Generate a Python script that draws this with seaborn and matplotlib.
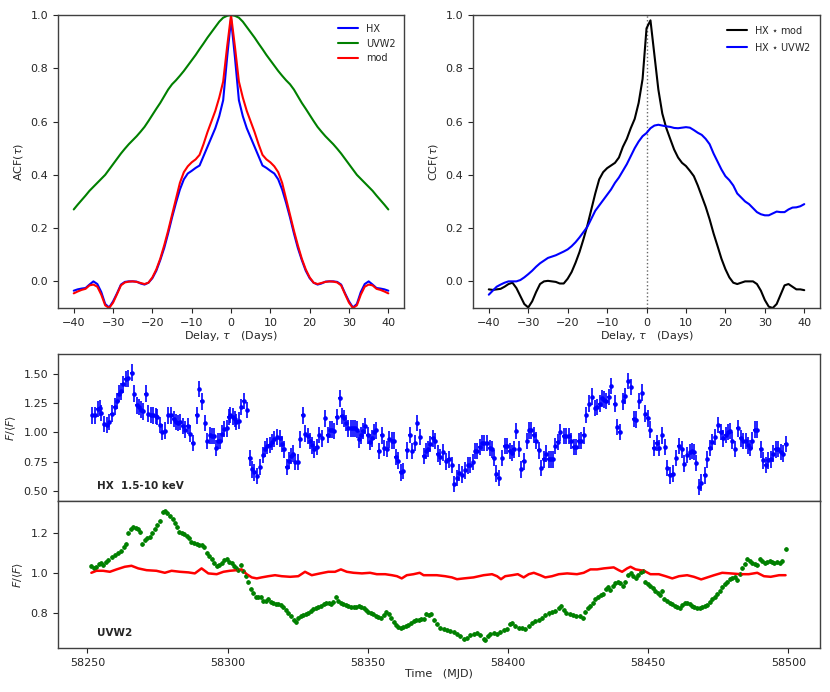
import numpy as np
import pandas as pd
import seaborn as sns
import matplotlib
matplotlib.use("Agg")
import matplotlib.pyplot as plt

# ---- data ----
lags = list(range(-40, 41))

# ACF, HX (blue) for lags -40..40
acf_hx = [-0.035, -0.03, -0.027, -0.025, -0.012, 0.0, -0.01, -0.04, -0.085, -0.098,
          -0.075, -0.045, -0.012, -0.002, 0.0, 0.0, -0.001, -0.008, -0.012, -0.005,
          0.012, 0.04, 0.08, 0.125, 0.18, 0.24, 0.295, 0.345, 0.383, 0.405,
          0.415, 0.426, 0.435, 0.47, 0.505, 0.54, 0.575, 0.62, 0.68, 0.84,
          0.985,
          0.84, 0.68, 0.62, 0.575, 0.54, 0.505, 0.47, 0.435, 0.426, 0.415,
          0.405, 0.383, 0.345, 0.295, 0.24, 0.18, 0.125, 0.08, 0.04, 0.012,
          -0.005, -0.012, -0.008, -0.001, 0.0, 0.0, -0.002, -0.012, -0.045, -0.075,
          -0.098, -0.085, -0.04, -0.01, 0.0, -0.012, -0.025, -0.027, -0.03, -0.035]

# ACF, UVW2 (green)
acf_uv = [0.27, 0.288, 0.305, 0.322, 0.34, 0.355, 0.37, 0.385, 0.40, 0.42,
          0.44, 0.46, 0.48, 0.498, 0.515, 0.53, 0.545, 0.562, 0.58, 0.602,
          0.625, 0.648, 0.67, 0.695, 0.72, 0.74, 0.755, 0.772, 0.79, 0.81,
          0.83, 0.85, 0.872, 0.893, 0.915, 0.935, 0.955, 0.975, 0.99, 0.997,
          1.0,
          0.997, 0.99, 0.975, 0.955, 0.935, 0.915, 0.893, 0.872, 0.85, 0.83,
          0.81, 0.79, 0.772, 0.755, 0.74, 0.72, 0.695, 0.67, 0.648, 0.625,
          0.602, 0.58, 0.562, 0.545, 0.53, 0.515, 0.498, 0.48, 0.46, 0.44,
          0.42, 0.40, 0.385, 0.37, 0.355, 0.34, 0.322, 0.305, 0.288, 0.27]

# ACF, mod (red)
acf_mod = [-0.045, -0.038, -0.032, -0.028, -0.015, -0.012, -0.02, -0.05, -0.09, -0.1,
           -0.08, -0.048, -0.015, -0.004, -0.001, 0.0, -0.002, -0.006, -0.01, -0.005,
           0.015, 0.045, 0.085, 0.135, 0.19, 0.25, 0.31, 0.37, 0.41, 0.432,
           0.447, 0.458, 0.475, 0.515, 0.56, 0.60, 0.64, 0.69, 0.75, 0.88,
           1.0,
           0.88, 0.75, 0.69, 0.64, 0.60, 0.56, 0.515, 0.475, 0.458, 0.447,
           0.432, 0.41, 0.37, 0.31, 0.25, 0.19, 0.135, 0.085, 0.045, 0.015,
           -0.005, -0.01, -0.006, -0.002, 0.0, -0.001, -0.004, -0.015, -0.048, -0.08,
           -0.1, -0.09, -0.05, -0.02, -0.012, -0.015, -0.028, -0.032, -0.038, -0.045]

# CCF, HX * mod (black)
ccf_mod = [-0.03, -0.032, -0.03, -0.028, -0.02, -0.01, -0.005, -0.025, -0.055, -0.085,
           -0.098, -0.075, -0.04, -0.01, 0.0, 0.002, 0.0, -0.002, -0.008, -0.008,
           0.01, 0.035, 0.07, 0.11, 0.158, 0.21, 0.27, 0.33, 0.383, 0.41,
           0.425, 0.435, 0.445, 0.465, 0.505, 0.535, 0.575, 0.61, 0.67, 0.76,
           0.95,
           0.98, 0.85, 0.72, 0.63, 0.576, 0.535, 0.495, 0.465, 0.445, 0.433,
           0.415, 0.395, 0.36, 0.32, 0.28, 0.233, 0.18, 0.133, 0.085, 0.046,
           0.015, -0.005, -0.01, -0.005, 0.0, 0.0, 0.0, -0.01, -0.035, -0.07,
           -0.095, -0.1, -0.085, -0.05, -0.015, -0.01, -0.02, -0.03, -0.03, -0.033]

# CCF, HX * UVW2 (blue)
ccf_uv = [-0.05, -0.035, -0.02, -0.012, -0.005, 0.0, 0.0, 0.0, 0.005, 0.015,
          0.027, 0.04, 0.055, 0.068, 0.078, 0.088, 0.093, 0.098, 0.105, 0.112,
          0.12, 0.132, 0.147, 0.165, 0.185, 0.205, 0.235, 0.265, 0.285, 0.305,
          0.325, 0.345, 0.37, 0.39, 0.415, 0.44, 0.47, 0.50, 0.525, 0.545,
          0.557,
          0.575, 0.585, 0.588, 0.585, 0.582, 0.58, 0.576, 0.575, 0.577, 0.579,
          0.577, 0.568, 0.558, 0.55, 0.535, 0.515, 0.48, 0.45, 0.42, 0.395,
          0.38, 0.36, 0.33, 0.315, 0.30, 0.29, 0.275, 0.26, 0.252, 0.248,
          0.248, 0.255, 0.262, 0.26, 0.26, 0.27, 0.277, 0.278, 0.282, 0.29]

t0 = 58200  # MJD offset used for the light-curve day lists

# HX 1.5-10 keV light curve (days after t0, normalised flux)
hx_day = [51.7, 52.6, 53.6, 54.4, 55.0, 56.0, 56.8, 57.8, 58.7, 59.7,
          60.6, 61.2, 62.1, 62.8, 63.6, 64.6, 65.8, 66.7, 67.5, 68.5,
          69.2, 69.9, 70.8, 71.7, 72.6, 73.5, 74.3, 74.9, 75.9, 76.7,
          77.7, 78.9, 79.7, 80.7, 81.5, 82.3, 83.1, 84.0, 84.8, 85.7,
          86.6, 87.6, 89.0, 89.9, 90.8, 91.9, 92.8, 93.8, 94.5, 95.2,
          95.9, 96.7, 97.4, 98.1, 98.8, 99.8, 100.4, 101.0, 101.8, 102.5,
          103.1, 103.9, 104.8, 105.7, 106.9, 107.9, 108.7, 109.5, 110.5, 111.7,
          112.6, 113.5, 114.1, 115.0, 115.9, 116.7, 117.7, 118.6, 119.5, 120.0,
          121.0, 121.8, 122.7, 123.4, 124.2, 125.1, 125.8, 126.8, 127.7, 128.6,
          129.4, 130.1, 130.8, 131.8, 132.7, 133.8, 134.8, 135.7, 136.5, 137.4,
          138.0, 138.9, 139.9, 140.7, 141.5, 142.3, 143.1, 143.9, 144.6, 145.5,
          146.1, 146.9, 147.6, 148.2, 149.0, 149.9, 150.8, 151.5, 152.3, 153.0,
          153.9, 155.0, 155.8, 156.8, 157.7, 158.6, 159.2, 159.9, 160.7, 161.8,
          162.7, 163.9, 164.9, 165.8, 166.8, 167.7, 168.7, 169.9, 170.8, 171.5,
          172.3, 173.2, 174.0, 174.9, 175.8, 176.8, 177.9, 178.9, 180.0, 180.8,
          181.8, 182.7, 183.7, 184.8, 185.7, 186.5, 187.5, 188.3, 189.1, 189.9,
          190.7, 191.5, 192.5, 193.5, 194.2, 194.9, 195.8, 196.7, 197.9, 198.8,
          199.6, 200.6, 201.4, 202.0, 202.9, 203.9, 204.8, 205.6, 206.8, 207.6,
          208.3, 209.2, 210.0, 211.0, 211.8, 212.7, 213.7, 214.5, 215.4, 216.1,
          216.9, 217.7, 218.7, 219.9, 220.7, 221.7, 222.5, 223.5, 224.4, 225.2,
          226.1, 227.0, 228.0, 229.0, 230.0, 231.0, 231.8, 232.7, 233.6, 234.4,
          235.1, 235.9, 236.8, 238.0, 238.9, 239.9, 241.1, 241.9, 242.9, 243.9,
          244.9, 245.8, 246.9, 247.9, 249.0, 249.9, 250.8, 252.0, 253.0, 253.9,
          255.0, 256.0, 256.8, 257.7, 258.7, 260.0, 260.9, 261.9, 262.9, 263.9,
          264.9, 265.7, 266.3, 267.1, 268.1, 269.0, 270.1, 271.1, 272.0, 272.9,
          273.8, 275.0, 275.8, 276.8, 277.6, 278.5, 279.2, 280.0, 281.0, 282.0,
          283.0, 283.8, 284.8, 285.6, 286.3, 287.1, 288.0, 288.9, 290.1, 291.1,
          291.9, 292.7, 293.7, 294.6, 295.5, 296.3, 297.3, 298.1, 299.0]
hx_flux = [1.145, 1.145, 1.20, 1.21, 1.165, 1.07, 1.065, 1.09, 1.16, 1.22,
           1.27, 1.33, 1.35, 1.41, 1.455, 1.46, 1.51, 1.33, 1.23, 1.215,
           1.195, 1.18, 1.33, 1.16, 1.15, 1.145, 1.14, 1.13, 1.065, 1.003,
           1.015, 1.145, 1.145, 1.115, 1.09, 1.08, 1.09, 1.055, 1.025, 1.055,
           0.99, 0.91, 1.145, 1.37, 1.265, 1.08, 0.925, 0.975, 0.97, 0.97,
           0.867, 0.925, 0.925, 0.99, 1.03, 1.035, 1.13, 1.15, 1.135, 1.115,
           1.09, 1.10, 1.215, 1.27, 1.19, 0.78, 0.685, 0.66, 0.63, 0.705,
           0.81, 0.86, 0.885, 0.895, 0.918, 0.945, 0.96, 0.95, 0.90, 0.855,
           0.705, 0.76, 0.80, 0.82, 0.75, 0.75, 0.94, 1.145, 0.99, 0.97,
           0.925, 0.89, 0.855, 0.875, 0.98, 0.95, 1.12, 0.98, 1.025, 1.025,
           1.01, 1.13, 1.29, 1.14, 1.12, 1.08, 1.035, 1.035, 1.035, 1.035,
           1.025, 0.94, 0.975, 1.01, 1.055, 0.975, 0.92, 0.95, 1.003, 1.017,
           0.84, 0.975, 0.867, 0.86, 0.94, 0.93, 0.93, 0.79, 0.76, 0.66,
           0.67, 0.847, 0.98, 0.84, 0.91, 1.08, 0.96, 0.80, 0.84, 0.86,
           0.90, 0.95, 0.925, 0.82, 0.79, 0.83, 0.753, 0.77, 0.725, 0.563,
           0.61, 0.657, 0.64, 0.677, 0.72, 0.725, 0.748, 0.84, 0.84, 0.875,
           0.91, 0.91, 0.91, 0.867, 0.855, 0.78, 0.65, 0.61, 0.78, 0.885,
           0.885, 0.84, 0.827, 0.855, 1.01, 0.86, 0.685, 0.753, 0.925, 1.017,
           1.017, 0.98, 0.93, 0.847, 0.697, 0.77, 0.82, 0.77, 0.77, 0.77,
           0.885, 0.918, 1.0, 0.97, 0.97, 0.97, 0.925, 0.875, 0.875, 0.925,
           0.93, 0.975, 1.15, 1.245, 1.305, 1.207, 1.215, 1.245, 1.29, 1.28,
           1.27, 1.30, 1.394, 1.245, 1.045, 1.003, 1.264, 1.31, 1.44, 1.385,
           1.116, 1.11, 1.27, 1.34, 1.16, 1.12, 1.025, 0.867, 0.91, 0.867,
           0.975, 0.875, 0.697, 0.634, 0.65, 0.78, 0.885, 0.855, 0.734, 0.81,
           0.833, 0.84, 0.833, 0.742, 0.535, 0.572, 0.634, 0.77, 0.867, 0.918,
           0.96, 1.065, 1.003, 0.95, 0.98, 1.003, 1.01, 0.93, 0.86, 1.035,
           0.95, 0.925, 0.925, 0.89, 0.867, 0.93, 1.025, 1.025, 0.855, 0.762,
           0.725, 0.762, 0.77, 0.82, 0.855, 0.86, 0.833, 0.82, 0.904]
hx_err = 0.07

# UVW2 light curve
uv_day = [51.4, 52.4, 53.2, 54.2, 55.0, 55.6, 56.5, 57.4, 58.6, 59.8,
          61.0, 62.1, 63.0, 63.7, 64.5, 65.4, 66.3, 67.3, 68.2, 68.9,
          69.6, 70.5, 71.3, 72.3, 73.2, 74.0, 74.9, 75.8, 76.8, 77.6,
          78.5, 79.4, 80.4, 81.2, 82.0, 82.7, 83.6, 84.4, 85.4, 86.3,
          87.1, 88.0, 88.9, 89.9, 90.7, 91.5, 92.5, 93.5, 94.3, 95.1,
          96.1, 97.0, 97.9, 98.7, 99.6, 100.6, 101.4, 102.3, 103.0, 103.8,
          104.6, 105.6, 106.5, 107.4, 108.2, 109.2, 110.1, 110.9, 111.8, 112.7,
          113.7, 114.5, 115.4, 116.3, 117.3, 118.1, 118.9, 119.9, 120.8, 121.7,
          122.5, 123.5, 124.4, 125.2, 126.1, 127.0, 128.0, 128.8, 129.6, 130.6,
          131.5, 132.4, 133.2, 134.2, 135.1, 136.0, 136.8, 137.7, 138.7, 139.5,
          140.4, 141.3, 142.3, 143.1, 143.9, 144.9, 145.8, 146.7, 147.5, 148.5,
          149.4, 150.2, 151.1, 152.0, 153.0, 153.8, 154.6, 155.6, 156.5, 157.4,
          158.2, 159.2, 160.1, 160.9, 161.8, 162.7, 163.7, 164.5, 165.4, 166.3,
          167.3, 168.1, 168.9, 169.9, 170.8, 171.7, 172.5, 173.7, 174.6, 175.8,
          177.0, 178.2, 179.4, 180.6, 181.8, 183.0, 184.2, 185.4, 186.5, 187.7,
          188.9, 190.1, 191.3, 191.9, 192.7, 193.7, 194.9, 196.1, 197.3, 198.5,
          199.6, 200.6, 201.4, 202.6, 203.8, 205.0, 206.2, 207.4, 208.6, 209.8,
          211.0, 212.1, 213.3, 214.5, 215.7, 216.9, 218.1, 218.9, 219.9, 220.8,
          222.0, 223.2, 224.4, 225.6, 226.8, 227.6, 228.5, 229.4, 230.4, 231.2,
          232.0, 233.0, 233.9, 234.8, 235.6, 236.5, 237.5, 238.3, 239.2, 240.1,
          241.1, 241.9, 242.7, 243.7, 244.6, 245.5, 246.3, 247.3, 248.2, 249.0,
          249.9, 250.8, 251.8, 252.6, 253.5, 254.2, 255.0, 255.8, 256.8, 257.7,
          258.6, 259.4, 260.4, 261.3, 262.1, 263.0, 263.9, 264.9, 265.7, 266.5,
          267.5, 268.5, 269.3, 270.1, 271.1, 272.0, 272.9, 273.7, 274.6, 275.6,
          276.4, 277.3, 278.2, 279.2, 280.0, 280.8, 281.8, 282.7, 283.6, 284.4,
          285.4, 286.3, 287.1, 288.0, 288.9, 289.9, 290.7, 291.5, 292.4, 293.4,
          294.2, 295.0, 296.0, 296.9, 297.7, 299.0]
uv_flux = [1.033, 1.022, 1.03, 1.043, 1.05, 1.038, 1.055, 1.063, 1.077, 1.088,
           1.10, 1.11, 1.127, 1.143, 1.20, 1.217, 1.227, 1.222, 1.217, 1.203,
           1.143, 1.163, 1.172, 1.18, 1.20, 1.217, 1.238, 1.26, 1.305, 1.31,
           1.30, 1.283, 1.267, 1.25, 1.23, 1.205, 1.197, 1.193, 1.183, 1.172,
           1.155, 1.147, 1.143, 1.138, 1.138, 1.13, 1.097, 1.083, 1.067, 1.05,
           1.033, 1.038, 1.05, 1.063, 1.067, 1.055, 1.05, 1.033, 1.022, 1.013,
           1.038, 1.01, 0.983, 0.955, 0.917, 0.90, 0.877, 0.877, 0.877, 0.86,
           0.86, 0.867, 0.855, 0.847, 0.843, 0.843, 0.838, 0.827, 0.813, 0.80,
           0.783, 0.767, 0.757, 0.777, 0.783, 0.788, 0.793, 0.80, 0.81, 0.817,
           0.822, 0.827, 0.833, 0.843, 0.847, 0.847, 0.843, 0.855, 0.877, 0.86,
           0.85, 0.843, 0.838, 0.833, 0.83, 0.827, 0.827, 0.833, 0.83, 0.822,
           0.813, 0.805, 0.80, 0.793, 0.783, 0.78, 0.777, 0.788, 0.805, 0.793,
           0.777, 0.757, 0.74, 0.73, 0.727, 0.73, 0.735, 0.74, 0.752, 0.76,
           0.763, 0.763, 0.768, 0.768, 0.793, 0.788, 0.793, 0.767, 0.743, 0.727,
           0.722, 0.717, 0.71, 0.705, 0.697, 0.683, 0.672, 0.677, 0.688, 0.697,
           0.70, 0.688, 0.672, 0.663, 0.683, 0.693, 0.70, 0.697, 0.705, 0.713,
           0.722, 0.743, 0.75, 0.733, 0.727, 0.727, 0.722, 0.733, 0.75, 0.76,
           0.767, 0.777, 0.788, 0.797, 0.805, 0.81, 0.822, 0.833, 0.813, 0.80,
           0.793, 0.788, 0.783, 0.783, 0.777, 0.805, 0.822, 0.833, 0.85, 0.867,
           0.88, 0.888, 0.893, 0.917, 0.927, 0.913, 0.933, 0.947, 0.955, 0.947,
           0.933, 0.955, 0.988, 0.997, 0.983, 0.972, 0.988, 1.005, 1.01, 0.955,
           0.943, 0.933, 0.922, 0.91, 0.90, 0.888, 0.91, 0.867, 0.86, 0.85,
           0.843, 0.833, 0.827, 0.822, 0.838, 0.85, 0.847, 0.843, 0.833, 0.827,
           0.822, 0.822, 0.827, 0.833, 0.838, 0.855, 0.867, 0.88, 0.893, 0.91,
           0.927, 0.943, 0.955, 0.967, 0.972, 0.977, 0.963, 0.993, 1.022, 1.043,
           1.067, 1.06, 1.05, 1.043, 1.038, 1.067, 1.06, 1.05, 1.055, 1.06,
           1.055, 1.05, 1.055, 1.05, 1.06, 1.117]
uv_err = 0.01

# model light curve (red)
mod_day = [51.4, 53.2, 55.6, 58.0, 60.4, 63.3, 65.7, 68.1, 71.1, 74.6,
           77.6, 80.0, 83.0, 86.0, 88.3, 90.7, 93.1, 96.1, 98.5, 100.8,
           103.2, 105.0, 106.8, 108.6, 110.4, 112.1, 114.5, 116.9, 119.3, 122.3,
           125.2, 127.6, 130.0, 133.0, 135.9, 138.3, 140.4, 142.5, 144.9, 147.9,
           150.8, 153.2, 156.2, 158.6, 160.4, 162.1, 163.9, 166.3, 168.5, 169.9,
           171.7, 174.6, 177.6, 180.0, 181.8, 184.2, 187.7, 191.3, 194.3, 196.1,
           197.5, 199.0, 201.4, 203.5, 205.6, 207.4, 209.2, 211.5, 213.3, 215.7,
           218.1, 221.1, 224.6, 227.0, 229.4, 231.8, 234.2, 237.7, 239.5, 240.7,
           242.5, 243.7, 245.5, 248.5, 250.8, 253.8, 256.2, 258.6, 261.0, 263.9,
           266.3, 268.9, 271.1, 273.5, 276.4, 279.4, 283.0, 285.9, 288.9, 291.3,
           293.7, 296.7, 299.0]
mod_flux = [1.0, 1.01, 1.01, 1.005, 1.017, 1.03, 1.035, 1.022, 1.013, 1.01,
            1.0, 1.01, 1.005, 1.002, 0.997, 1.022, 0.997, 0.993, 1.005, 1.01,
            1.013, 1.017, 0.993, 0.977, 0.972, 0.977, 0.983, 0.988, 0.983, 0.98,
            0.983, 1.005, 0.988, 0.997, 1.005, 1.005, 1.017, 1.005, 1.0, 0.997,
            1.0, 0.993, 0.993, 0.988, 0.983, 0.972, 0.988, 0.993, 1.0, 0.988,
            0.988, 0.988, 0.983, 0.977, 0.968, 0.972, 0.977, 0.988, 0.993, 0.983,
            0.968, 0.983, 0.988, 0.993, 0.977, 0.993, 1.0, 0.988, 0.977, 0.983,
            0.993, 0.997, 0.993, 1.0, 1.017, 1.017, 1.022, 1.027, 1.013, 1.005,
            1.022, 1.03, 1.017, 1.01, 0.993, 0.993, 0.983, 0.972, 0.983, 0.988,
            0.98, 0.967, 0.977, 0.988, 1.0, 0.997, 0.993, 0.993, 1.0, 0.983,
            0.98, 0.988, 0.988]

# ---- style ----
sns.set_style("ticks")
plt.rcParams['font.family'] = ['DejaVu Sans']
plt.rcParams['mathtext.fontset'] = 'dejavusans'
plt.rcParams['axes.edgecolor'] = '0.25'
plt.rcParams['axes.linewidth'] = 1.0
plt.rcParams['xtick.labelsize'] = 8
plt.rcParams['ytick.labelsize'] = 8
plt.rcParams['axes.labelsize'] = 8

fig = plt.figure(figsize=(8.3, 6.92), dpi=100)
ax_acf = fig.add_axes([0.0699, 0.5549, 0.4169, 0.4234])
ax_ccf = fig.add_axes([0.5699, 0.5549, 0.4181, 0.4234])
ax_hx = fig.add_axes([0.0699, 0.2760, 0.9181, 0.2124])
ax_uv = fig.add_axes([0.0699, 0.0636, 0.9181, 0.2124], sharex=ax_hx)

# ---- ACF panel ----
sns.lineplot(x=lags, y=acf_hx, color='blue', lw=1.5, label='HX', ax=ax_acf)
sns.lineplot(x=lags, y=acf_uv, color='green', lw=1.5, label='UVW2', ax=ax_acf)
sns.lineplot(x=lags, y=acf_mod, color='red', lw=1.5, label='mod', ax=ax_acf)
ax_acf.set_ylim(-0.1, 1.0)
ax_acf.set_xlim(-44, 44)
ax_acf.set_xticks(range(-40, 41, 10))
ax_acf.set_ylabel(r'ACF($\tau$)')
ax_acf.set_xlabel(r'Delay, $\tau$   (Days)', labelpad=1)
ax_acf.legend(frameon=False, fontsize=7, loc='upper right')

# ---- CCF panel ----
ax_ccf.axvline(0, color='0.4', ls=':', lw=1)
sns.lineplot(x=lags, y=ccf_mod, color='black', lw=1.5, label=r'HX $\star$ mod', ax=ax_ccf)
sns.lineplot(x=lags, y=ccf_uv, color='blue', lw=1.5, label=r'HX $\star$ UVW2', ax=ax_ccf)
ax_ccf.set_ylim(-0.1, 1.0)
ax_ccf.set_xlim(-44, 44)
ax_ccf.set_xticks(range(-40, 41, 10))
ax_ccf.set_ylabel(r'CCF($\tau$)')
ax_ccf.set_xlabel(r'Delay, $\tau$   (Days)', labelpad=1)
ax_ccf.legend(frameon=False, fontsize=7, loc='upper right')

# ---- HX light curve ----
hx = pd.DataFrame({'mjd': np.array(hx_day) + t0, 'flux': hx_flux})
ax_hx.errorbar(hx['mjd'], hx['flux'], yerr=hx_err, xerr=0.5, fmt='none',
               ecolor='blue', elinewidth=1.2, capsize=0)
sns.scatterplot(data=hx, x='mjd', y='flux', color='blue', s=11, edgecolor='blue',
                linewidth=0, ax=ax_hx)
ax_hx.set_ylim(0.416, 1.668)
ax_hx.set_yticks([0.5, 0.75, 1.0, 1.25, 1.5])
ax_hx.set_yticklabels(['0.50', '0.75', '1.00', '1.25', '1.50'])
ax_hx.set_ylabel(r'$F/\langle F\rangle$')
ax_hx.set_xlabel('')
ax_hx.tick_params(labelbottom=False)
ax_hx.text(0.051, 0.10, 'HX  1.5-10 keV', transform=ax_hx.transAxes,
           fontsize=7.5, fontweight='bold', va='center')

# ---- UVW2 light curve ----
uv = pd.DataFrame({'mjd': np.array(uv_day) + t0, 'flux': uv_flux})
md = pd.DataFrame({'mjd': np.array(mod_day) + t0, 'flux': mod_flux})
sns.lineplot(data=md, x='mjd', y='flux', color='red', lw=1.8, ax=ax_uv)
ax_uv.errorbar(uv['mjd'], uv['flux'], yerr=uv_err, xerr=0.5, fmt='none',
               ecolor='green', elinewidth=1.0, capsize=0)
sns.scatterplot(data=uv, x='mjd', y='flux', color='green', s=11, edgecolor='green',
                linewidth=0, ax=ax_uv)
ax_uv.set_ylim(0.625, 1.358)
ax_uv.set_yticks([0.8, 1.0, 1.2])
ax_uv.set_xlim(58239.5, 58511.3)
ax_uv.set_xticks([58250, 58300, 58350, 58400, 58450, 58500])
ax_uv.set_ylabel(r'$F/\langle F\rangle$')
ax_uv.set_xlabel('Time   (MJD)', labelpad=1)
ax_uv.text(0.051, 0.10, 'UVW2', transform=ax_uv.transAxes,
           fontsize=7.5, fontweight='bold', va='center')

fig.align_ylabels([ax_hx, ax_uv])
fig.savefig('out.png', dpi=100)
